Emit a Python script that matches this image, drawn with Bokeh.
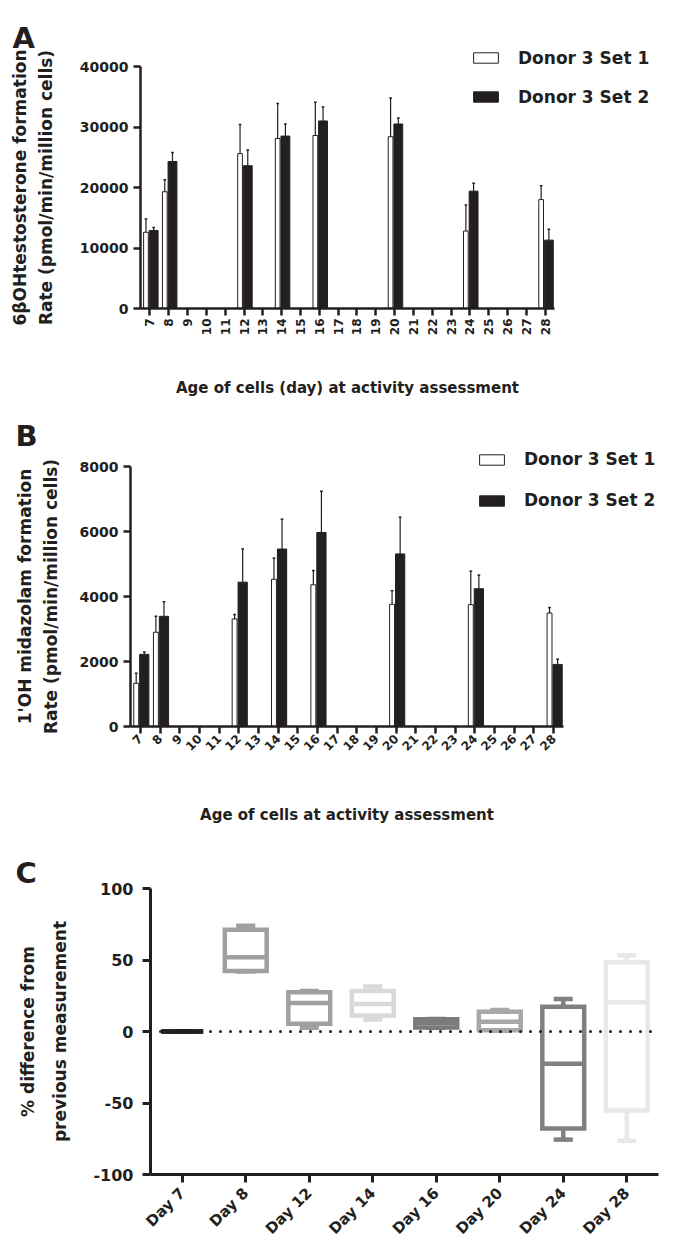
import math
from bokeh.plotting import figure
from bokeh.models import (Range1d, FixedTicker, Label, Legend, LegendItem, ColumnDataSource)
from bokeh.layouts import column
from bokeh.transform import dodge
from bokeh.embed import file_html
from bokeh.resources import INLINE

# ---------------- data ----------------
all_days = list(range(7, 29))
measured_days = [7, 8, 12, 14, 16, 20, 24, 28]

# Panel A: 6beta-OH testosterone formation rate (mean, SD)
a_set1_mean = [12600, 19300, 25600, 28100, 28600, 28400, 12800, 18000]
a_set1_sd = [2200, 2000, 4800, 5800, 5500, 6400, 4300, 2300]
a_set2_mean = [12900, 24300, 23600, 28500, 31000, 30500, 19400, 11300]
a_set2_sd = [500, 1500, 2600, 2000, 2300, 1000, 1300, 1800]
a_yticks = [0, 10000, 20000, 30000, 40000]

# Panel B: 1'OH midazolam formation rate (mean, SD)
b_set1_mean = [1330, 2900, 3310, 4530, 4360, 3760, 3750, 3490]
b_set1_sd = [310, 490, 140, 650, 440, 420, 1030, 170]
b_set2_mean = [2220, 3390, 4440, 5460, 5970, 5310, 4240, 1910]
b_set2_sd = [70, 450, 1020, 920, 1270, 1130, 420, 160]
b_yticks = [0, 2000, 4000, 6000, 8000]

# Panel C: % difference from previous measurement (box plots)
c_labels = ["Day 7", "Day 8", "Day 12", "Day 14", "Day 16", "Day 20", "Day 24", "Day 28"]
c_min = [0, 42.0, 2.6, 8.4, 2.6, 0.5, -75.6, -76.5]
c_q1 = [0, 42.3, 5.4, 11.2, 2.8, 0.8, -67.8, -55.2]
c_median = [0, 52.0, 19.9, 19.3, 5.9, 6.8, -22.5, 20.5]
c_q3 = [0, 71.1, 27.5, 28.3, 8.5, 13.8, 17.3, 48.5]
c_max = [0, 74.0, 28.3, 31.4, 8.7, 15.0, 22.8, 53.4]
c_yticks = [-100, -50, 0, 50, 100]

series_labels = ["Donor 3 Set 1", "Donor 3 Set 2"]

# ---------------- styles ----------------
FONT = "DejaVu Sans"
INK = "#231f20"
box_colors = ["#231f20", "#a0a0a2", "#a0a0a2", "#d9d9da", "#7b7b7e", "#a8a8aa", "#808083", "#e8e8ea"]
W = 679


def x_range_for(v0, px0, v1, px1):
    k = (px1 - px0) / (v1 - v0)
    return Range1d(v0 - px0 / k, v0 + (W - px0) / k)


def y_range_for(v0, py0, v1, py1, H):
    k = (py0 - py1) / (v1 - v0)
    return Range1d(v0 - (H - py0) / k, v0 + py0 / k)


def make_fig(H, xr, yr):
    p = figure(width=W, height=H, x_range=xr, y_range=yr, output_backend="svg",
               toolbar_location=None, min_border=0, min_border_left=0, min_border_right=0,
               min_border_top=0, min_border_bottom=0, frame_align=False)
    p.outline_line_color = None
    p.grid.visible = False
    return p


def style_axes(p, axis_w, tick_out, ytick_size, xtick_size, ylab_size, xlab_size, ylab_lh):
    for ax in p.axis:
        ax.axis_line_width = axis_w
        ax.axis_line_color = INK
        ax.major_tick_line_width = axis_w
        ax.major_tick_line_color = INK
        ax.major_tick_out = tick_out
        ax.major_tick_in = 0
        ax.minor_tick_line_color = None
        ax.major_label_text_font = FONT
        ax.major_label_text_font_style = "bold"
        ax.major_label_text_color = INK
        ax.axis_label_text_font = FONT
        ax.axis_label_text_font_style = "bold"
        ax.axis_label_text_color = INK
    p.yaxis.major_label_text_font_size = ytick_size
    p.xaxis.major_label_text_font_size = xtick_size
    p.yaxis.axis_label_text_font_size = ylab_size
    p.yaxis.axis_label_text_line_height = ylab_lh
    p.xaxis.axis_label_text_font_size = xlab_size


def panel_letter(p, text, x, baseline, H):
    p.add_layout(Label(x=x, y=H - baseline, x_units="screen", y_units="screen", text=text,
                       text_font=FONT, text_font_style="bold", text_font_size="29px",
                       text_color=INK, text_baseline="alphabetic"))


def bar_panel(letter, letter_pos, H, xpx, ypx, ymax, yticks,
              s1m, s1sd, s2m, s2sd, ylabel, xlabel, orient, legend_pos, legend_spacing,
              ylab_standoff, xlab_standoff, ytick_standoff, xtick_standoff):
    xr = x_range_for(all_days[0] - 0.5, xpx[0], all_days[-1] + 0.5, xpx[1])
    yr = y_range_for(0, ypx[0], ymax, ypx[1], H)
    p = make_fig(H, xr, yr)

    s1 = ColumnDataSource(dict(day=measured_days, mean=s1m,
                               top=[m + s for m, s in zip(s1m, s1sd)]))
    s2 = ColumnDataSource(dict(day=measured_days, mean=s2m,
                               top=[m + s for m, s in zip(s2m, s2sd)]))
    off1, w1 = -0.21, 0.25
    off2, w2 = 0.20, 0.47
    cap = 0.07

    r1 = p.vbar(x=dodge("day", off1), width=w1, top="mean", bottom=0, source=s1,
                fill_color="white", line_color=INK, line_width=1)
    r2 = p.vbar(x=dodge("day", off2), width=w2, top="mean", bottom=0, source=s2,
                fill_color=INK, line_color=INK, line_width=1)
    for src, off in ((s1, off1), (s2, off2)):
        p.segment(x0=dodge("day", off), x1=dodge("day", off), y0="mean", y1="top",
                  source=src, line_color=INK, line_width=1.2)
        p.segment(x0=dodge("day", off - cap), x1=dodge("day", off + cap), y0="top", y1="top",
                  source=src, line_color=INK, line_width=1.5)

    p.xaxis.fixed_location = 0
    p.yaxis.fixed_location = all_days[0] - 0.5
    p.xaxis.bounds = (all_days[0] - 0.5, all_days[-1] + 0.5)
    p.yaxis.bounds = (0, ymax)
    p.xaxis.ticker = FixedTicker(ticks=all_days)
    p.yaxis.ticker = FixedTicker(ticks=yticks)
    p.xaxis.major_label_orientation = orient
    p.yaxis.axis_label = ylabel
    p.xaxis.axis_label = xlabel
    style_axes(p, 2.5, 7, "14px", "12px", "17px", "15px", 1.3)
    p.yaxis.axis_label_standoff = ylab_standoff
    p.xaxis.axis_label_standoff = xlab_standoff
    p.yaxis.major_label_standoff = ytick_standoff
    p.xaxis.major_label_standoff = xtick_standoff

    legend = Legend(items=[LegendItem(label=series_labels[0], renderers=[r1]),
                           LegendItem(label=series_labels[1], renderers=[r2])],
                    location=(legend_pos[0], H - legend_pos[1]),
                    glyph_width=31, glyph_height=13, label_height=20,
                    label_standoff=17, spacing=legend_spacing, padding=0, margin=0,
                    border_line_color=None, background_fill_alpha=0,
                    label_text_font=FONT, label_text_font_style="bold",
                    label_text_font_size="17px", label_text_color=INK)
    p.add_layout(legend, "center")
    panel_letter(p, letter, letter_pos[0], letter_pos[1], H)
    return p


pA = bar_panel("A", (12, 37), 400, (140, 554), (308, 66), 40000, a_yticks,
               a_set1_mean, a_set1_sd, a_set2_mean, a_set2_sd,
               "6\u03b2OHtestosterone formation\nRate (pmol/min/million cells)",
               "Age of cells (day) at activity assessment",
               math.pi / 2, (470, 106.5), 19, 21, 41, 5, 3)

pB = bar_panel("B", (15, 35), 428, (130, 563), (326, 66), 8000, b_yticks,
               b_set1_mean, b_set1_sd, b_set2_mean, b_set2_sd,
               "1'OH midazolam formation\nRate (pmol/min/million cells)",
               "Age of cells at activity assessment",
               math.pi / 4, (476, 110), 21, 16, 48, 5, 3)

# ---------------- Panel C ----------------
HC = 417
n_c = len(c_labels)
c_x = [i + 0.5 for i in range(n_c)]   # category centres on the numeric scale
pC = make_fig(HC, x_range_for(0, 150, n_c, 658), y_range_for(-100, 346, 100, 60, HC))

csrc = ColumnDataSource(dict(x=c_x, lo=c_min, q1=c_q1, med=c_median, q3=c_q3,
                             hi=c_max, color=box_colors))
half = 0.33
capw = 0.15
lw = 4.5
pC.segment(x0="x", x1="x", y0="q3", y1="hi", source=csrc, line_color="color", line_width=lw)
pC.segment(x0="x", x1="x", y0="q1", y1="lo", source=csrc, line_color="color", line_width=lw)
pC.segment(x0=dodge("x", -capw), x1=dodge("x", capw), y0="hi", y1="hi", source=csrc,
           line_color="color", line_width=lw)
pC.segment(x0=dodge("x", -capw), x1=dodge("x", capw), y0="lo", y1="lo", source=csrc,
           line_color="color", line_width=lw)
pC.vbar(x="x", width=2 * half, top="q3", bottom="q1", source=csrc,
        fill_color="white", line_color="color", line_width=lw, line_join="miter")
pC.segment(x0=dodge("x", -half), x1=dodge("x", half), y0="med", y1="med", source=csrc,
           line_color="color", line_width=lw)

# dotted zero reference line across the category axis
pC.segment(x0=[0], x1=[n_c], y0=[0], y1=[0], line_color=INK, line_width=3,
           line_dash="0 10", line_cap="round")

pC.xaxis.fixed_location = c_yticks[0]
pC.yaxis.fixed_location = 0
pC.xaxis.bounds = (0, n_c)
pC.yaxis.bounds = (c_yticks[0], c_yticks[-1])
pC.xaxis.ticker = FixedTicker(ticks=c_x)
pC.xaxis.major_label_overrides = {x: lab for x, lab in zip(c_x, c_labels)}
pC.yaxis.ticker = FixedTicker(ticks=c_yticks)
pC.yaxis.major_label_overrides = {v: str(v) for v in c_yticks}
pC.xaxis.major_label_orientation = math.pi / 4
pC.yaxis.axis_label = "% difference from\nprevious measurement"
style_axes(pC, 3, 8, "16px", "15px", "17px", "14px", 1.6)
pC.yaxis.axis_label_standoff = 20
pC.yaxis.major_label_standoff = 9
pC.xaxis.major_label_standoff = 8
panel_letter(pC, "C", 15, 44, HC)

layout = column(pA, pB, pC, spacing=0)
open("out.html", "w").write(file_html(layout, INLINE))
